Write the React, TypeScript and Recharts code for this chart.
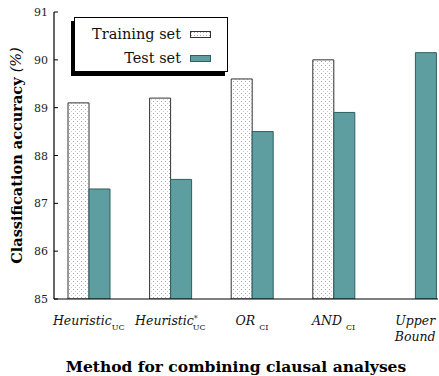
import {
  Bar,
  BarChart,
  Legend,
  XAxis,
  YAxis,
} from "recharts";

const METHODS = ["Heuristic", "Heuristic", "OR", "AND", "Upper"];
const METHOD_SUB = ["UC", "UC", "CI", "CI", ""];
const METHOD_SUP = ["", "*", "", "", ""];
const METHOD_LINE2 = ["", "", "", "", "Bound"];

const TRAINING = [89.1, 89.2, 89.6, 90.0, null];
const TEST = [87.3, 87.5, 88.5, 88.9, 90.15];

const Y_TICKS = [85, 86, 87, 88, 89, 90, 91];

const TEAL = "#5f9ea0";
const TEAL_EDGE = "#2f5f5f";
const SERIF = "'DejaVu Serif', serif";

const data = METHODS.map((m, i) => ({
  key: `m${i}`,
  training: TRAINING[i],
  test: TEST[i],
}));

function LeftTick({ x, y, payload }: any) {
  return (
    <g>
      <line x1={x + 6} x2={x + 10} y1={y} y2={y} stroke="#000" />
      <text
        x={x}
        y={y}
        dy={4}
        textAnchor="end"
        fontSize={11}
        fontFamily={SERIF}
        fill="#222"
      >
        {payload.value}
      </text>
    </g>
  );
}

function RightTick({ x, y }: any) {
  return <line x1={x - 4} x2={x} y1={y} y2={y} stroke="#000" />;
}

function MethodTick({ x, y, index }: any) {
  const sub = METHOD_SUB[index];
  const sup = METHOD_SUP[index];
  const line2 = METHOD_LINE2[index];
  return (
    <g>
      <text
        x={x}
        y={y + 18}
        textAnchor="middle"
        fontSize={12.5}
        fontFamily={SERIF}
        fontStyle="italic"
        fill="#111"
      >
        {METHODS[index]}
        {sup ? (
          <tspan dx={0} dy={-4} fontSize={8} fontStyle="normal">
            {sup}
          </tspan>
        ) : null}
        {sub ? (
          <tspan
            dx={sup ? -5 : index >= 2 ? 4 : 0}
            dy={sup ? 9 : 5}
            fontSize={8}
            fontStyle="normal"
          >
            {sub}
          </tspan>
        ) : null}
      </text>
      {line2 ? (
        <text
          x={x}
          y={y + 34}
          textAnchor="middle"
          fontSize={12.5}
          fontFamily={SERIF}
          fontStyle="italic"
          fill="#111"
        >
          {line2}
        </text>
      ) : null}
    </g>
  );
}

function YTitle({ viewBox }: any) {
  const cx = 16;
  const cy = viewBox.y + viewBox.height / 2;
  return (
    <text
      x={cx}
      y={cy}
      transform={`rotate(-90 ${cx} ${cy})`}
      textAnchor="middle"
      dominantBaseline="central"
      fontSize={14.5}
      fontWeight="bold"
      fontFamily={SERIF}
      fill="#000"
    >
      Classification accuracy{" "}
      <tspan fontStyle="italic" fontWeight="normal">
        (%)
      </tspan>
    </text>
  );
}

function Swatch({ teal }: { teal: boolean }) {
  return (
    <svg width={21} height={7} style={{ display: "block" }}>
      <defs>
        <pattern id="ldots" width={3} height={3} patternUnits="userSpaceOnUse">
          <rect width={3} height={3} fill="#fff" />
          <rect x={1} y={1} width={1} height={1} fill="#aaa" />
        </pattern>
      </defs>
      <rect
        x={0.5}
        y={0.5}
        width={20}
        height={6}
        fill={teal ? TEAL : "url(#ldots)"}
        stroke={teal ? TEAL_EDGE : "#333"}
      />
    </svg>
  );
}

function LegendBox() {
  const rows = [
    { label: "Training set", teal: false },
    { label: "Test set", teal: true },
  ];
  return (
    <div
      style={{
        width: 154,
        height: 55,
        border: "1px solid #000",
        boxShadow: "-3px 4px 0 #000",
        background: "#fff",
        fontFamily: SERIF,
        fontSize: 14.5,
        color: "#111",
        boxSizing: "border-box",
        paddingTop: 4,
      }}
    >
      {rows.map((r) => (
        <div
          key={r.label}
          style={{
            display: "flex",
            alignItems: "center",
            justifyContent: "flex-end",
            height: 24,
            paddingRight: 16,
          }}
        >
          <span style={{ marginRight: 9 }}>{r.label}</span>
          <Swatch teal={r.teal} />
        </div>
      ))}
    </div>
  );
}

export default function App() {
  return (
    <div
      style={{
        position: "absolute",
        left: 0,
        top: 0,
        width: 439,
        height: 376,
        overflow: "hidden",
        background: "#fff",
      }}
    >
      <BarChart
        width={439}
        height={376}
        data={data}
        margin={{ top: 12, right: 1, bottom: 0, left: 0 }}
        barGap={0}
        barSize={21}
      >
        <defs>
          <pattern id="dots" width={4} height={4} patternUnits="userSpaceOnUse">
            <rect width={4} height={4} fill="#fff" />
            <rect x={1} y={1} width={1} height={1} fill="#aaa" />
            <rect x={3} y={3} width={1} height={1} fill="#ccc" />
          </pattern>
        </defs>
        <XAxis
          dataKey="key"
          height={77}
          padding={{ left: -6, right: -18 }}
          axisLine={{ stroke: "#000", strokeWidth: 1.2 }}
          tickLine={false}
          tick={<MethodTick />}
          interval={0}
          label={{
            value: "Method for combining clausal analyses",
            position: "insideBottom",
            offset: 4,
            dx: -10,
            style: {
              fontFamily: SERIF,
              fontWeight: "bold",
              fontSize: 15.5,
              fill: "#000",
            },
          }}
        />
        <XAxis
          xAxisId="top"
          dataKey="key"
          orientation="top"
          height={0}
          axisLine={{ stroke: "#000", strokeWidth: 1.2 }}
          tickLine={false}
          tick={false}
        />
        <YAxis
          width={54}
          domain={[85, 91]}
          ticks={Y_TICKS}
          allowDataOverflow
          axisLine={{ stroke: "#000", strokeWidth: 1.2 }}
          tickLine={false}
          tickSize={0}
          tickMargin={6}
          tick={<LeftTick />}
          label={<YTitle />}
        />
        <YAxis
          yAxisId="right"
          orientation="right"
          width={0}
          domain={[85, 91]}
          ticks={Y_TICKS}
          axisLine={{ stroke: "#000", strokeWidth: 1 }}
          tickLine={false}
          tickSize={0}
          tickMargin={0}
          tick={<RightTick />}
        />
        <Legend
          layout="horizontal"
          verticalAlign="middle"
          wrapperStyle={{ position: "absolute", left: 74, top: 17, width: 154 }}
          content={() => <LegendBox />}
        />
        <Bar
          dataKey="training"
          name="Training set"
          fill="url(#dots)"
          stroke="#333"
          strokeWidth={1}
          isAnimationActive={false}
        />
        <Bar
          dataKey="test"
          name="Test set"
          fill={TEAL}
          stroke={TEAL_EDGE}
          strokeWidth={1}
          isAnimationActive={false}
        />
      </BarChart>
    </div>
  );
}
